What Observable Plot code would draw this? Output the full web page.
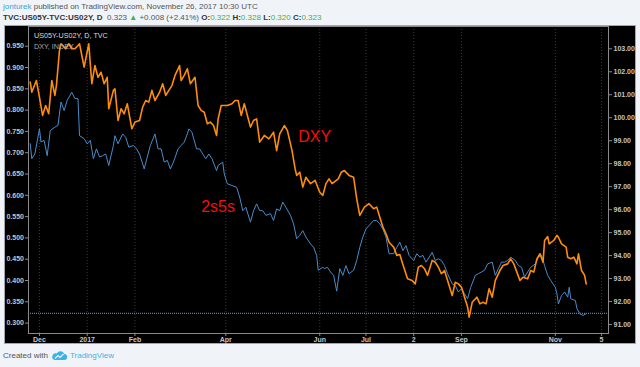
<!DOCTYPE html>
<html>
<head>
<meta charset="utf-8">
<script src="https://cdn.jsdelivr.net/npm/d3@7"></script>
<script src="https://cdn.jsdelivr.net/npm/@observablehq/plot@0.6"></script>
<style>
  html, body { margin: 0; padding: 0; }
  body { width: 640px; height: 367px; background: #f0f3f7; position: relative; overflow: hidden;
         font-family: "Liberation Sans", Arial, sans-serif; }
  .hdr { position: absolute; left: 3px; white-space: nowrap; font-size: 8px; line-height: 10px; color: #555; }
  .hdr .user { color: #3aa3dc; }
  .hdr b { color: #333; }
  .hdr .g { color: #3cb44b; }
  #panel { position: absolute; left: 4px; top: 25px; width: 630px; height: 317px; background: #000;
           border: 1px solid #a3a7ab; }
  #panel svg { display: block; position: absolute; left: 0; top: 0; }
  .leg { position: absolute; left: 29px; white-space: nowrap; font-size: 7.2px; line-height: 10px; z-index: 2; }
  #foot { position: absolute; left: 3px; top: 351px; font-size: 8px; line-height: 10px; color: #555; white-space: nowrap; }
  #foot .tv { color: #3bb3e4; }
  #foot svg { vertical-align: -2px; margin: 0 3px 0 4px; }
</style>
</head>
<body>
<div class="hdr" style="top:2px"><span class="user">jonturek</span> published on TradingView.com, November 26, 2017 10:30 UTC</div>
<div class="hdr" style="top:13px"><b>TVC:US05Y-TVC:US02Y, D</b>&nbsp; 0.323 <span class="g">▲</span> +0.008 (+2.41%) <b>O:</b><span class="g">0.322</span> <b>H:</b><span class="g">0.328</span> <b>L:</b><span class="g">0.320</span> <b>C:</b><span class="g">0.323</span></div>
<div id="panel">
  <div class="leg" style="top:5px;color:#dcdcdc">US05Y-US02Y, D, TVC</div>
  <div class="leg" style="top:16px;color:#a9a9a9">DXY, INDEX</div>
</div>
<div id="foot">Created with<svg width="15" height="9" viewBox="0 0 15 9"><path d="M2.5 9 H12 A3 3 0 0 0 12.3 3 A4 4 0 0 0 4.8 2.6 A3.2 3.2 0 0 0 2.5 9Z" fill="#3bb3e4"/><path d="M3 7.5 L6 4.5 L8 6.5 L11.5 3" stroke="#f0f3f7" stroke-width="1.1" fill="none"/></svg><span class="tv">TradingView</span></div>
<script>
// ---- data ----
const spreadDates = ["2016-11-25","2016-11-26","2016-11-28","2016-12-01","2016-12-02","2016-12-04","2016-12-06","2016-12-08","2016-12-11","2016-12-13","2016-12-15","2016-12-17","2016-12-19","2016-12-22","2016-12-24","2016-12-26","2016-12-27","2016-12-30","2017-01-01","2017-01-03","2017-01-05","2017-01-07","2017-01-09","2017-01-11","2017-01-13","2017-01-15","2017-01-18","2017-01-19","2017-01-21","2017-01-24","2017-01-26","2017-01-28","2017-01-31","2017-02-02","2017-02-04","2017-02-07","2017-02-09","2017-02-11","2017-02-14","2017-02-16","2017-02-18","2017-02-20","2017-02-22","2017-02-24","2017-02-26","2017-03-01","2017-03-03","2017-03-05","2017-03-07","2017-03-08","2017-03-10","2017-03-13","2017-03-15","2017-03-17","2017-03-19","2017-03-21","2017-03-23","2017-03-26","2017-03-27","2017-03-30","2017-03-31","2017-04-02","2017-04-05","2017-04-08","2017-04-10","2017-04-12","2017-04-14","2017-04-17","2017-04-19","2017-04-21","2017-04-23","2017-04-25","2017-04-27","2017-04-30","2017-05-02","2017-05-04","2017-05-06","2017-05-08","2017-05-10","2017-05-13","2017-05-15","2017-05-17","2017-05-19","2017-05-21","2017-05-23","2017-05-26","2017-05-28","2017-05-30","2017-05-31","2017-06-03","2017-06-04","2017-06-06","2017-06-08","2017-06-10","2017-06-12","2017-06-14","2017-06-16","2017-06-18","2017-06-20","2017-06-23","2017-06-25","2017-06-27","2017-06-29","2017-07-01","2017-07-03","2017-07-06","2017-07-08","2017-07-10","2017-07-12","2017-07-14","2017-07-16","2017-07-19","2017-07-21","2017-07-23","2017-07-25","2017-07-27","2017-07-29","2017-08-01","2017-08-03","2017-08-05","2017-08-07","2017-08-09","2017-08-13","2017-08-15","2017-08-17","2017-08-19","2017-08-21","2017-08-23","2017-08-26","2017-08-28","2017-08-30","2017-09-01","2017-09-03","2017-09-05","2017-09-07","2017-09-10","2017-09-12","2017-09-14","2017-09-16","2017-09-18","2017-09-21","2017-09-23","2017-09-25","2017-09-27","2017-09-29","2017-10-01","2017-10-03","2017-10-06","2017-10-08","2017-10-10","2017-10-12","2017-10-14","2017-10-16","2017-10-19","2017-10-21","2017-10-23","2017-10-25","2017-10-27","2017-10-29","2017-11-01","2017-11-02","2017-11-03","2017-11-05","2017-11-07","2017-11-09","2017-11-10","2017-11-11","2017-11-14","2017-11-15","2017-11-17","2017-11-19","2017-11-21"];
const spreadValues = [0.721,0.686,0.697,0.756,0.725,0.729,0.693,0.752,0.760,0.764,0.819,0.799,0.823,0.842,0.827,0.827,0.740,0.733,0.721,0.729,0.686,0.709,0.690,0.693,0.697,0.670,0.717,0.740,0.721,0.744,0.736,0.713,0.717,0.709,0.697,0.662,0.690,0.717,0.744,0.709,0.709,0.678,0.682,0.662,0.678,0.709,0.717,0.725,0.744,0.756,0.748,0.709,0.709,0.697,0.686,0.697,0.686,0.658,0.670,0.678,0.650,0.627,0.623,0.619,0.596,0.564,0.572,0.537,0.564,0.580,0.564,0.564,0.553,0.557,0.541,0.568,0.564,0.584,0.572,0.553,0.533,0.498,0.506,0.517,0.502,0.486,0.478,0.459,0.424,0.431,0.428,0.431,0.420,0.412,0.375,0.428,0.412,0.435,0.416,0.424,0.447,0.478,0.502,0.521,0.529,0.541,0.541,0.533,0.521,0.502,0.463,0.463,0.478,0.490,0.470,0.482,0.459,0.447,0.463,0.455,0.459,0.443,0.466,0.447,0.451,0.447,0.435,0.416,0.392,0.388,0.373,0.381,0.369,0.357,0.384,0.412,0.416,0.420,0.424,0.439,0.443,0.412,0.428,0.443,0.443,0.447,0.455,0.447,0.435,0.431,0.408,0.420,0.431,0.439,0.455,0.459,0.435,0.412,0.400,0.384,0.369,0.345,0.365,0.373,0.361,0.384,0.357,0.353,0.334,0.322,0.318,0.322];

const dxyDates = ["2016-11-25","2016-11-26","2016-11-29","2016-12-01","2016-12-03","2016-12-05","2016-12-07","2016-12-09","2016-12-11","2016-12-12","2016-12-14","2016-12-15","2016-12-18","2016-12-20","2016-12-22","2016-12-24","2016-12-26","2016-12-27","2016-12-30","2017-01-02","2017-01-04","2017-01-06","2017-01-08","2017-01-10","2017-01-12","2017-01-14","2017-01-15","2017-01-18","2017-01-19","2017-01-21","2017-01-23","2017-01-25","2017-01-27","2017-01-29","2017-01-30","2017-02-01","2017-02-04","2017-02-06","2017-02-08","2017-02-10","2017-02-12","2017-02-14","2017-02-17","2017-02-19","2017-02-21","2017-02-23","2017-02-25","2017-02-27","2017-03-02","2017-03-03","2017-03-05","2017-03-07","2017-03-09","2017-03-12","2017-03-14","2017-03-16","2017-03-18","2017-03-20","2017-03-22","2017-03-24","2017-03-26","2017-03-27","2017-03-29","2017-04-02","2017-04-05","2017-04-07","2017-04-09","2017-04-11","2017-04-13","2017-04-17","2017-04-19","2017-04-21","2017-04-23","2017-04-26","2017-04-29","2017-05-02","2017-05-04","2017-05-06","2017-05-09","2017-05-11","2017-05-14","2017-05-16","2017-05-17","2017-05-19","2017-05-21","2017-05-23","2017-05-26","2017-05-29","2017-06-01","2017-06-03","2017-06-05","2017-06-07","2017-06-09","2017-06-13","2017-06-15","2017-06-17","2017-06-20","2017-06-23","2017-06-25","2017-06-27","2017-06-30","2017-07-03","2017-07-06","2017-07-08","2017-07-10","2017-07-12","2017-07-14","2017-07-16","2017-07-19","2017-07-21","2017-07-23","2017-07-25","2017-07-28","2017-07-31","2017-08-02","2017-08-04","2017-08-06","2017-08-08","2017-08-10","2017-08-13","2017-08-15","2017-08-17","2017-08-19","2017-08-21","2017-08-23","2017-08-26","2017-08-28","2017-08-30","2017-09-01","2017-09-03","2017-09-05","2017-09-06","2017-09-08","2017-09-11","2017-09-13","2017-09-15","2017-09-17","2017-09-19","2017-09-21","2017-09-23","2017-09-26","2017-09-28","2017-10-01","2017-10-03","2017-10-05","2017-10-07","2017-10-09","2017-10-11","2017-10-14","2017-10-16","2017-10-18","2017-10-20","2017-10-22","2017-10-24","2017-10-25","2017-10-27","2017-10-28","2017-10-31","2017-11-02","2017-11-03","2017-11-05","2017-11-08","2017-11-09","2017-11-11","2017-11-13","2017-11-15","2017-11-16","2017-11-18","2017-11-20","2017-11-21"];
const dxyValues = [101.55,101.11,101.62,100.89,100.10,100.53,100.18,101.62,100.97,101.40,102.93,103.22,103.00,103.22,103.00,103.00,103.14,103.22,102.20,103.22,101.48,102.27,101.76,101.98,101.48,101.76,100.39,101.19,101.26,99.88,100.39,100.17,100.61,99.88,99.52,99.81,99.88,100.46,100.75,100.68,101.19,100.75,101.11,101.48,100.97,101.19,101.40,101.84,102.27,101.62,101.84,102.13,101.48,101.76,100.53,100.32,100.24,99.74,99.81,99.66,99.23,99.95,100.53,100.53,100.61,100.75,100.75,100.10,100.61,99.59,99.88,99.95,98.94,99.23,99.08,99.37,98.57,99.30,99.66,99.44,98.57,97.78,97.49,97.63,96.98,97.41,97.13,97.27,96.76,96.62,97.13,97.34,97.13,97.34,97.63,97.70,97.49,97.41,96.47,95.75,96.11,96.26,96.04,96.11,95.67,95.24,94.95,94.58,94.37,94.01,94.05,93.61,92.99,92.92,92.77,93.50,93.57,93.43,93.14,93.79,93.71,93.50,93.21,93.35,92.92,92.26,92.84,92.77,92.63,92.19,91.76,91.32,91.97,92.19,91.90,91.97,91.90,92.56,92.19,92.92,93.35,93.57,93.64,93.86,93.64,93.28,92.92,93.06,92.99,93.35,93.28,93.86,94.08,93.71,94.66,94.83,94.51,94.66,94.88,94.80,94.51,94.37,93.93,93.86,93.93,93.64,94.08,93.35,93.14,92.77];

const lastSpread = [0.323];
const leftTicks = [0.30,0.35,0.40,0.45,0.50,0.55,0.60,0.65,0.70,0.75,0.80,0.85,0.90,0.95];
const rightTicks = [91,92,93,94,95,96,97,98,99,100,101,102,103];
const xTickDates = ["2016-12-01","2017-01-01","2017-02-01","2017-04-01","2017-06-01","2017-07-01","2017-08-01","2017-09-01","2017-11-01","2017-12-01"];
const xTickLabels = ["Dec","2017","Feb","Apr","Jun","Jul","2","Sep","Nov","5"];

const noteLabels = ["DXY", "2s5s"];
const noteDates = ["2017-05-18", "2017-03-16"];
const noteSeries = ["dxy", "spread"];
const noteValues = [99.16, 0.574];

// ---- build ----
const utc = s => new Date(s + "T00:00:00Z");
const spread = spreadDates.map((d, i) => ({date: utc(d), value: spreadValues[i]}));
const dxy = dxyDates.map((d, i) => ({date: utc(d), value: dxyValues[i]}));
const ticksX = xTickDates.map(utc);
const labelByTime = new Map(ticksX.map((d, i) => [+d, xTickLabels[i]]));

const yDomain = [0.2756, 0.9963];
const dxyToY = d3.scaleLinear().domain([90.61, 103.97]).range(yDomain);
const notes = noteLabels.map((t, i) => ({
  text: t, date: utc(noteDates[i]),
  y: noteSeries[i] === "dxy" ? dxyToY(noteValues[i]) : noteValues[i]
}));

const axisFont = {fontSize: 7, fontWeight: "bold", fill: "#c4c4c4"};

const chart = Plot.plot({
  width: 630, height: 317,
  marginLeft: 23, marginRight: 27, marginTop: 0, marginBottom: 10,
  style: {background: "#000", color: "#c4c4c4", fontFamily: "'Liberation Sans', Arial, sans-serif", fontSize: "7px", overflow: "visible"},
  x: {type: "utc", domain: [new Date("2016-11-23T21:00:00Z"), new Date("2017-12-05T12:00:00Z")]},
  y: {domain: yDomain},
  marks: [
    Plot.ruleX(ticksX, {stroke: "#3a3a3a", strokeDasharray: "1,2"}),
    Plot.ruleY(lastSpread, {stroke: "#6aa6dc", strokeDasharray: "1,1", strokeWidth: 1}),
    Plot.lineY(spread, {x: "date", y: "value", stroke: "#4b8cc8", strokeWidth: 1}),
    Plot.lineY(dxy, {x: "date", y: d => dxyToY(d.value), stroke: "#ff8d0a", strokeWidth: 1.6}),
    Plot.axisY(leftTicks, {anchor: "left", tickFormat: d3.format(".3f"), tickSize: 3, tickPadding: 1.5, stroke: "#8a8a8a", ...axisFont}),
    Plot.axisY(rightTicks.map(v => dxyToY(v)), {anchor: "right", tickFormat: v => dxyToY.invert(v).toFixed(2), tickSize: 3, tickPadding: 2, stroke: "#8a8a8a", ...axisFont}),
    Plot.axisX(ticksX, {anchor: "bottom", tickFormat: d => labelByTime.get(+d), tickSize: 3, tickPadding: 0.5, stroke: "#8a8a8a", ...axisFont}),
    Plot.frame({stroke: "#8a8a8a"}),
    Plot.text(notes, {x: "date", y: "y", text: "text", textAnchor: "start", fill: "#ee1111", fontSize: 16, fontFamily: "'Liberation Sans', Arial, sans-serif"})
  ]
});
document.getElementById("panel").prepend(chart);
</script>
</body>
</html>
